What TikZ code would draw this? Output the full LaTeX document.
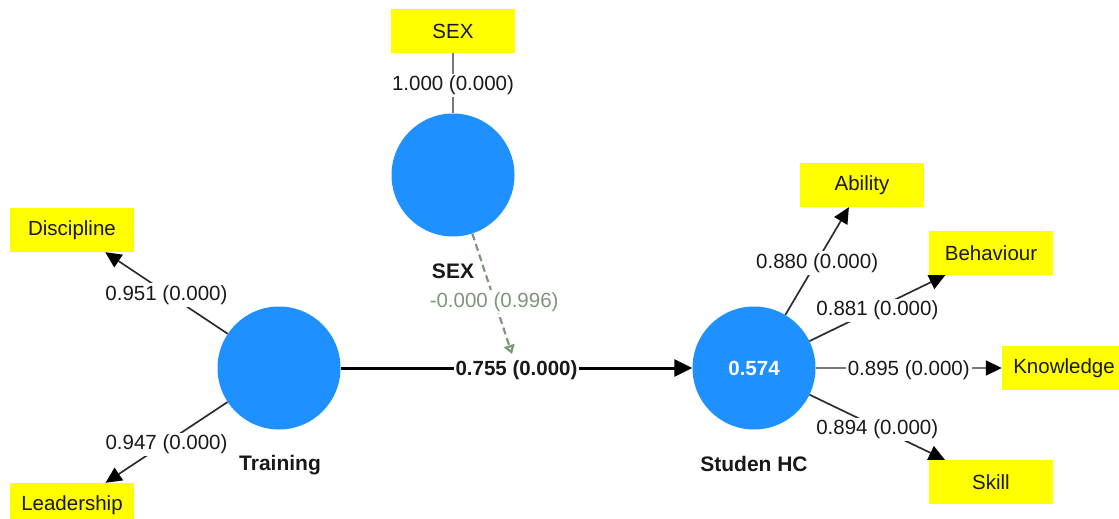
\documentclass[tikz,border=0pt]{standalone}
\usepackage{fontspec}
\setmainfont{Liberation Sans}
\usetikzlibrary{arrows.meta}
\definecolor{lvblue}{RGB}{30,144,255}
\definecolor{indyellow}{RGB}{255,255,0}
\definecolor{modgreen}{RGB}{128,148,126}
\definecolor{linkdark}{RGB}{45,45,45}
\definecolor{linkgray}{RGB}{120,120,120}
\definecolor{textdark}{RGB}{25,25,25}

\begin{document}
\begin{tikzpicture}[x=1pt,y=-1pt,
  every node/.style={font=\fontsize{20.5}{24}\selectfont, text=textdark},
  latent/.style={circle, fill=lvblue, minimum size=123pt, inner sep=0pt},
  indicator/.style={rectangle, fill=indyellow, minimum width=124pt, minimum height=44pt, inner sep=0pt},
  lvname/.style={font=\fontsize{21}{24}\selectfont\bfseries},
  weight/.style={fill=white, inner sep=2pt, yshift=-2pt},
  loading/.style={draw=linkdark, line width=1.7pt, -{Triangle[length=16pt,width=15pt,color=black]}},
  plainlink/.style={draw=linkgray, line width=2pt},
  moderation/.style={draw=modgreen, line width=2.2pt, dash pattern=on 7pt off 4pt,
    -{Triangle[open,length=9pt,width=11pt]}},
  mainpath/.style={draw=black, line width=3pt, -{Triangle[length=18pt,width=17pt]}},
]
\useasboundingbox (0,0) rectangle (1119,519);
\clip (0,0) rectangle (1119,519);

% latent variables
\node[latent] (sexc)  at (453,175) {};
\node[latent] (train) at (279,368) {};
\node[latent] (shc)   at (754,368) {\textcolor{white}{\bfseries 0.574}};

\node[lvname] at (453,271) {SEX};
\node[lvname] at (280,465) {Training};
\node[lvname] at (754,464) {Studen HC};

% indicators
\node[indicator] (sexbox) at (453,31)  {SEX};
\node[indicator] (disc)   at (72,230)  {Discipline};
\node[indicator] (lead)   at (72,505)  {Leadership};
\node[indicator] (abil)   at (862,185) {Ability};
\node[indicator] (behav)  at (991,253) {Behaviour};
\node[indicator] (know)   at (1064,368){Knowledge};
\node[indicator] (skill)  at (991,482) {Skill};

\coordinate (modtip) at (512,354);

% outer model
\draw[plainlink] (sexbox) -- node[weight]{1.000 (0.000)} (sexc);
\draw[loading] (train) -- node[weight]{0.951 (0.000)} (disc);
\draw[loading] (train) -- node[weight]{0.947 (0.000)} (lead);
\draw[loading] (shc) -- node[weight]{0.880 (0.000)} (abil);
\draw[loading] (shc) -- node[weight]{0.881 (0.000)} (behav);
\draw[loading,draw=linkgray] (shc) -- node[weight]{0.895 (0.000)} (know);
\draw[loading] (shc) -- node[weight]{0.894 (0.000)} (skill);

% inner model
\draw[mainpath] (train) -- node[weight,font=\fontsize{20.5}{24}\selectfont\bfseries]{0.755 (0.000)} (shc);
\draw[moderation] (sexc) -- node[pos=0.55,weight,text=modgreen]{-0.000 (0.996)} (modtip);
\end{tikzpicture}
\end{document}
